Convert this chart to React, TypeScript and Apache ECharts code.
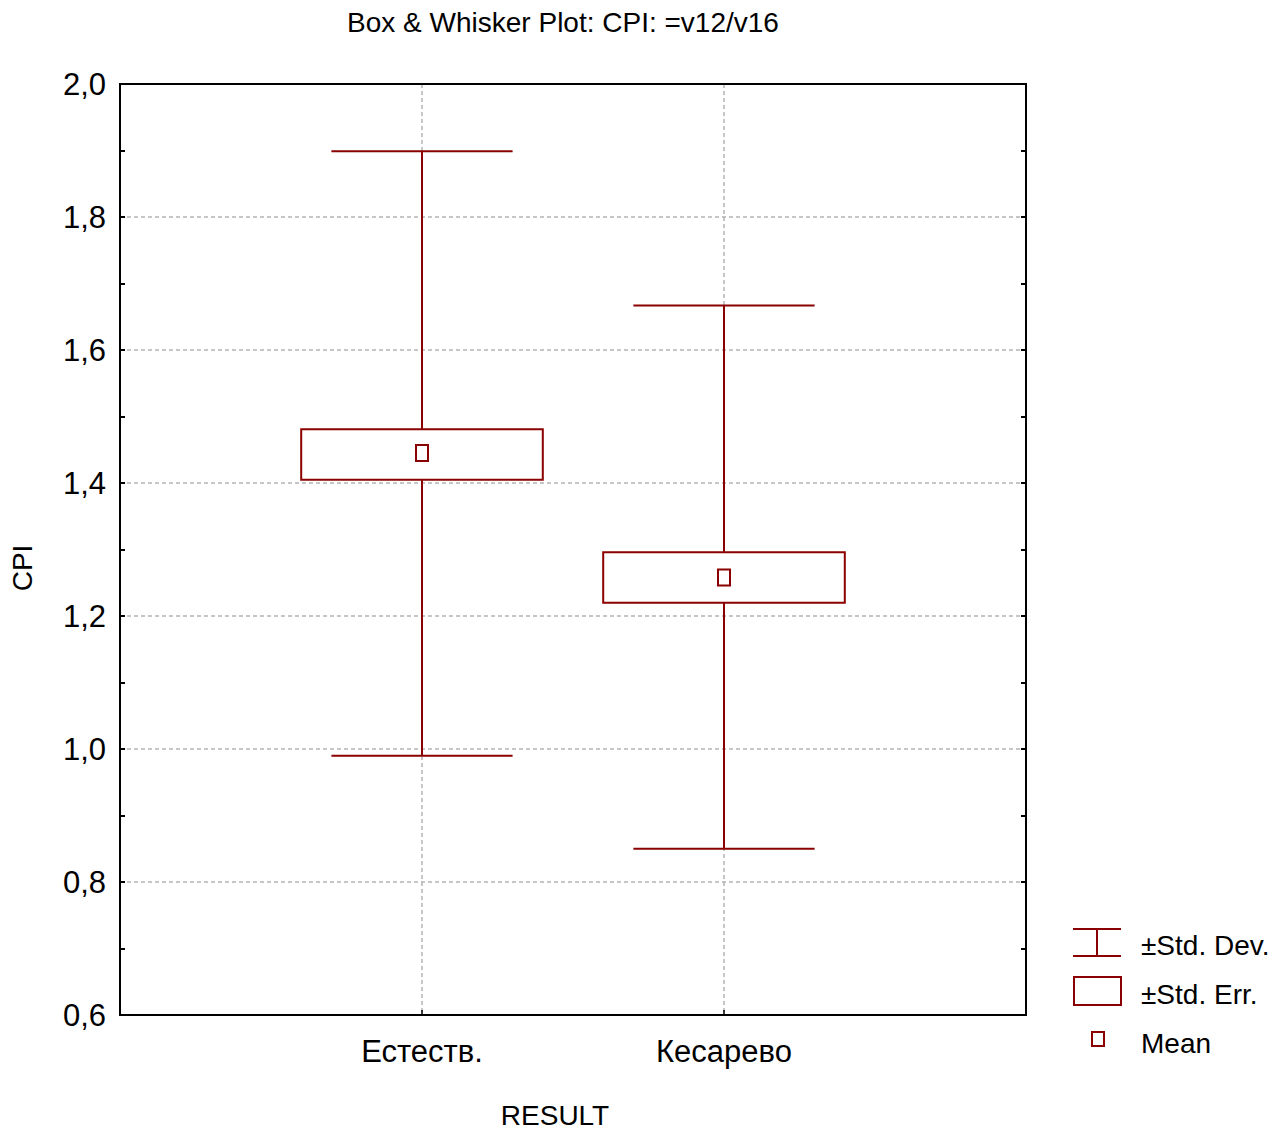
import React, { useEffect, useRef } from "react";
import * as echarts from "echarts";

const categories = ["Естеств.", "Кесарево"];
const meanValues = [1.445, 1.258];
const stdErrLow = [1.405, 1.22];
const stdErrHigh = [1.481, 1.296];
const stdDevLow = [0.99, 0.85];
const stdDevHigh = [1.899, 1.667];
const yTicks = [0.6, 0.8, 1.0, 1.2, 1.4, 1.6, 1.8, 2.0];

const FONT = "'Liberation Sans Narrow', 'Arial Narrow', 'Liberation Sans', Arial, sans-serif";
const RED = "#8b0000";

export default function App() {
  const ref = useRef<HTMLDivElement>(null);
  useEffect(() => {
    document.body.style.margin = "0";
    const chart = echarts.init(ref.current!, null, { renderer: "svg" });
    const data = categories.map((c, i) => [
      i + 1,
      stdDevLow[i],
      stdDevHigh[i],
      stdErrLow[i],
      stdErrHigh[i],
      meanValues[i],
    ]);
    const fmt = (v: number) => v.toFixed(1).replace(".", ",");
    const yAxisBase = () => ({
      type: "value",
      min: yTicks[0],
      max: yTicks[yTicks.length - 1],
      interval: 0.2,
      axisLine: { show: true, onZero: false, lineStyle: { color: "#000", width: 2 } },
      axisTick: { show: true, inside: true, length: 5, lineStyle: { color: "#000", width: 2 } },
      minorTick: { show: true, splitNumber: 2, length: 5, lineStyle: { color: "#000", width: 2 } },
    });
    const textStyle = (size: number) => ({ fontFamily: FONT, fontSize: size, fill: "#000" });
    chart.setOption({
      animation: false,
      backgroundColor: "#fff",
      title: {
        text: "Box & Whisker Plot: CPI: =v12/v16",
        left: 558,
        top: 3,
        textAlign: "center",
        textStyle: { fontFamily: FONT, fontSize: 28, fontWeight: "normal", color: "#000" },
      },
      grid: {
        left: 120,
        top: 84,
        width: 906,
        height: 931,
        show: true,
        borderColor: "#000",
        borderWidth: 2,
        backgroundColor: "#fff",
      },
      xAxis: [
        {
          type: "value",
          min: 0,
          max: 3,
          interval: 1,
          axisLine: { show: true, onZero: false, lineStyle: { color: "#000", width: 2 } },
          axisTick: { show: true, inside: true, length: 5, lineStyle: { color: "#000", width: 1.5 } },
          axisLabel: {
            margin: 21,
            fontFamily: FONT,
            fontSize: 31,
            color: "#000",
            formatter: (v: number) => (v >= 1 && v <= categories.length ? categories[v - 1] : ""),
          },
          splitLine: { show: true, lineStyle: { color: "#b4b4b4", type: [4, 3], width: 1.5 } },
        },
        {
          type: "value",
          position: "top",
          z: 5,
          min: 0,
          max: 3,
          interval: 1,
          axisLine: { show: true, onZero: false, lineStyle: { color: "#000", width: 2 } },
          axisTick: { show: false },
          axisLabel: { show: false },
          splitLine: { show: false },
        },
      ],
      yAxis: [
        {
          ...yAxisBase(),
          position: "left",
          axisLabel: { margin: 14, fontFamily: FONT, fontSize: 31, color: "#000", formatter: fmt },
          splitLine: { show: true, lineStyle: { color: "#b4b4b4", type: [4, 3], width: 1.5 } },
        },
        {
          ...yAxisBase(),
          position: "right",
          z: 5,
          axisLabel: { show: false },
          splitLine: { show: false },
        },
      ],
      graphic: [
        {
          type: "text",
          x: 22,
          y: 568,
          rotation: Math.PI / 2,
          style: { ...textStyle(28), text: "CPI", align: "center", verticalAlign: "middle" },
        },
        {
          type: "text",
          x: 555,
          y: 1115,
          style: { ...textStyle(28), text: "RESULT", align: "center", verticalAlign: "middle" },
        },
        // Legend
        { type: "line", shape: { x1: 1073, y1: 929, x2: 1121, y2: 929 }, style: { stroke: RED, lineWidth: 2 } },
        { type: "line", shape: { x1: 1073, y1: 956, x2: 1121, y2: 956 }, style: { stroke: RED, lineWidth: 2 } },
        { type: "line", shape: { x1: 1097, y1: 929, x2: 1097, y2: 956 }, style: { stroke: RED, lineWidth: 2 } },
        {
          type: "text",
          x: 1141,
          y: 945,
          style: { ...textStyle(28), text: "±Std. Dev.", verticalAlign: "middle" },
        },
        {
          type: "rect",
          shape: { x: 1074, y: 977, width: 47, height: 28 },
          style: { stroke: RED, lineWidth: 2, fill: "none" },
        },
        {
          type: "text",
          x: 1141,
          y: 994,
          style: { ...textStyle(28), text: "±Std. Err.", verticalAlign: "middle" },
        },
        {
          type: "rect",
          shape: { x: 1092, y: 1032, width: 12, height: 14 },
          style: { stroke: RED, lineWidth: 2, fill: "none" },
        },
        {
          type: "text",
          x: 1141,
          y: 1043,
          style: { ...textStyle(28), text: "Mean", verticalAlign: "middle" },
        },
      ],
      series: [
        {
          type: "custom",
          data,
          encode: { x: 0, y: [1, 2, 3, 4, 5] },
          renderItem: (params: any, api: any) => {
            const x = api.value(0);
            const unit = api.size([1, 0])[0];
            const pSdLow = api.coord([x, api.value(1)]);
            const pSdHigh = api.coord([x, api.value(2)]);
            const pSeLow = api.coord([x, api.value(3)]);
            const pSeHigh = api.coord([x, api.value(4)]);
            const pMean = api.coord([x, api.value(5)]);
            const cx = pMean[0];
            const boxHalf = unit * 0.4;
            const capHalf = unit * 0.3;
            const ls = { stroke: RED, lineWidth: 2, fill: "none" };
            return {
              type: "group",
              children: [
                { type: "line", shape: { x1: cx, y1: pSdHigh[1], x2: cx, y2: pSeHigh[1] }, style: ls },
                { type: "line", shape: { x1: cx, y1: pSeLow[1], x2: cx, y2: pSdLow[1] }, style: ls },
                { type: "line", shape: { x1: cx - capHalf, y1: pSdHigh[1], x2: cx + capHalf, y2: pSdHigh[1] }, style: ls },
                { type: "line", shape: { x1: cx - capHalf, y1: pSdLow[1], x2: cx + capHalf, y2: pSdLow[1] }, style: ls },
                {
                  type: "rect",
                  shape: { x: cx - boxHalf, y: pSeHigh[1], width: boxHalf * 2, height: pSeLow[1] - pSeHigh[1] },
                  style: { stroke: RED, lineWidth: 2, fill: "#fff" },
                },
                {
                  type: "rect",
                  shape: { x: cx - 6, y: pMean[1] - 8, width: 12, height: 16 },
                  style: ls,
                },
              ],
            };
          },
        },
      ],
    });
    return () => chart.dispose();
  }, []);
  return <div ref={ref} style={{ width: 1284, height: 1131 }} />;
}
